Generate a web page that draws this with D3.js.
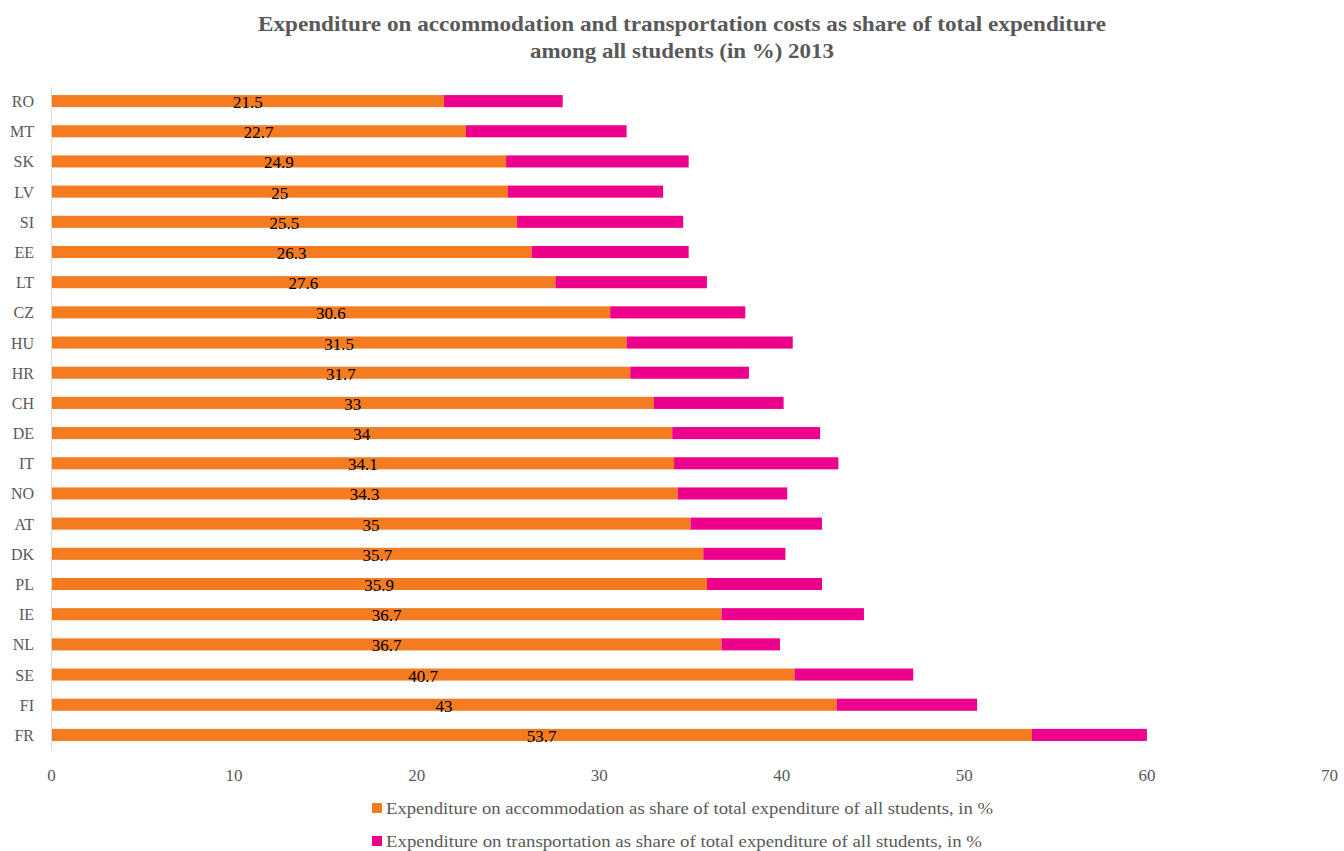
<!DOCTYPE html>
<html>
<head>
<meta charset="utf-8">
<script src="https://cdn.jsdelivr.net/npm/d3@7"></script>
<style>
  html, body { margin: 0; padding: 0; background: #fff; }
  svg { display: block; }
  text { font-family: "Liberation Serif", "DejaVu Serif", serif; }
</style>
</head>
<body>
<svg id="chart" width="1344" height="851"></svg>
<script>
const countries = ["RO","MT","SK","LV","SI","EE","LT","CZ","HU","HR","CH","DE","IT","NO","AT","DK","PL","IE","NL","SE","FI","FR"];
const accommodation = [21.5,22.7,24.9,25,25.5,26.3,27.6,30.6,31.5,31.7,33,34,34.1,34.3,35,35.7,35.9,36.7,36.7,40.7,43,53.7];
const transportation = [6.5,8.8,10.0,8.5,9.1,8.6,8.3,7.4,9.1,6.5,7.1,8.1,9.0,6.0,7.2,4.5,6.3,7.8,3.2,6.5,7.7,6.3];
const xTicks = [0,10,20,30,40,50,60,70];
const seriesNames = [
  "Expenditure on accommodation as share of total expenditure of all students, in %",
  "Expenditure on transportation as share of total expenditure of all students, in %"
];
const colors = ["#f47b20", "#ec008c"];
const titleLines = [
  "Expenditure on accommodation and transportation costs as share of total expenditure",
  "among all students (in %) 2013"
];

const svg = d3.select("#chart");
const x = d3.scaleLinear().domain([0, 70]).range([51.5, 1329.5]);
const y = d3.scaleBand().domain(countries).range([86, 750]).paddingInner(0.6).paddingOuter(0.3);

// title
const titleLen = [848, 304];
svg.append("g").selectAll("text").data(titleLines).join("text")
  .attr("x", 682).attr("y", (d, i) => 31 + i * 27)
  .attr("text-anchor", "middle")
  .attr("font-size", 21).attr("font-weight", "bold")
  .attr("fill", "#595959")
  .attr("textLength", (d, i) => titleLen[i])
  .attr("lengthAdjust", "spacingAndGlyphs")
  .text(d => d);

// bars
const rows = countries.map((c, i) => ({c, a: accommodation[i], t: transportation[i]}));
const g = svg.append("g");
g.selectAll("rect.acc").data(rows).join("rect").attr("class", "acc")
  .attr("x", x(0)).attr("y", d => y(d.c))
  .attr("width", d => x(d.a) - x(0)).attr("height", y.bandwidth())
  .attr("fill", colors[0]);
g.selectAll("rect.tr").data(rows).join("rect").attr("class", "tr")
  .attr("x", d => x(d.a)).attr("y", d => y(d.c))
  .attr("width", d => x(d.a + d.t) - x(d.a)).attr("height", y.bandwidth())
  .attr("fill", colors[1]);

// value labels
g.selectAll("text.val").data(rows).join("text").attr("class", "val")
  .attr("x", d => (x(0) + x(d.a)) / 2)
  .attr("y", d => y(d.c) + y.bandwidth() / 2 + 7)
  .attr("text-anchor", "middle")
  .attr("font-size", 17).attr("fill", "#000")
  .text(d => d.a);

// y axis line
svg.append("line").attr("x1", 51.5).attr("x2", 51.5).attr("y1", 87).attr("y2", 750)
  .attr("stroke", "#d9d9d9").attr("stroke-width", 1);

// category labels
svg.append("g").selectAll("text").data(countries).join("text")
  .attr("x", 34).attr("y", d => y(d) + y.bandwidth() / 2 + 6)
  .attr("text-anchor", "end").attr("font-size", 16).attr("fill", "#595959")
  .text(d => d);

// x tick labels
svg.append("g").selectAll("text").data(xTicks).join("text")
  .attr("x", d => x(d)).attr("y", 781)
  .attr("text-anchor", "middle").attr("font-size", 17).attr("fill", "#595959")
  .text(d => d);

// legend
const legLen = [607, 596];
const lg = svg.append("g").selectAll("g").data(seriesNames).join("g")
  .attr("transform", (d, i) => `translate(372, ${803 + i * 33})`);
lg.append("rect").attr("width", 10).attr("height", 10).attr("fill", (d, i) => colors[i]);
lg.append("text").attr("x", 14).attr("y", 11).attr("font-size", 16.5).attr("fill", "#595959")
  .attr("textLength", (d, i) => legLen[i]).attr("lengthAdjust", "spacingAndGlyphs")
  .text(d => d);
</script>
</body>
</html>
